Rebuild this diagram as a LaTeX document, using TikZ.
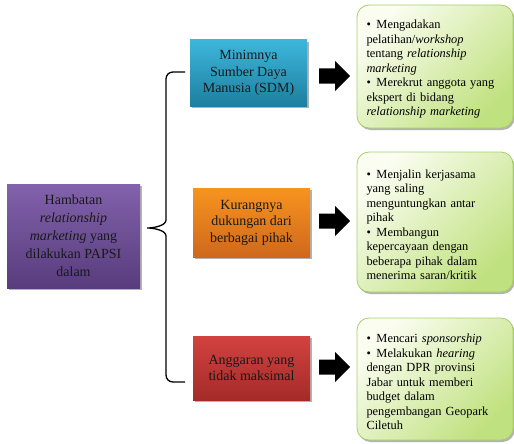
\documentclass[tikz,border=0pt]{standalone}
\usepackage{fontspec}
\setmainfont{Liberation Serif}
\usetikzlibrary{shadows,calc}
\definecolor{bluetop}{HTML}{3DB6DC}
\definecolor{bluebot}{HTML}{1D7F9E}
\definecolor{orgtop}{HTML}{F7941F}
\definecolor{orgbot}{HTML}{CF681C}
\definecolor{redtop}{HTML}{D2423F}
\definecolor{redbot}{HTML}{A42B29}
\definecolor{purtop}{HTML}{8262AC}
\definecolor{purbot}{HTML}{583C7D}
\definecolor{grnlight}{HTML}{FAFDF0}
\definecolor{grndark}{HTML}{C0E17F}
\definecolor{grnedge}{HTML}{A6CF68}
\begin{document}
\begin{tikzpicture}[x=1pt,y=-1pt,
  shadowed/.style={drop shadow={shadow xshift=1.5pt,shadow yshift=-2pt,opacity=.3,fill=black}},
  catbox/.style={shadowed,minimum width=117pt,align=center,inner sep=2pt,
    font=\fontsize{14}{16.5}\selectfont,text=black!90},
  solbox/.style={shadowed,draw=grnedge,line width=0.8pt,rounded corners=12pt,
    top color=grnlight,bottom color=grndark,shading angle=45,
    minimum width=156pt,text width=137pt,align=left,
    font=\fontsize{12.4}{14.5}\selectfont,text=black},
  blockarrow/.style={fill=black,draw=none},
  bracestyle/.style={draw=black,line width=1.3pt}]
\useasboundingbox (0,0) rectangle (514,444);
\newcommand{\itm}[1]{\par\noindent\hangindent=10pt\hangafter=1\makebox[10pt][l]{\textbullet}#1\par}
\newcommand{\blockarr}[1]{\fill[blockarrow] (#1) ++(0,-7.5) -- ++(16,0) -- ++(0,-7.5) -- ++(15,15) -- ++(-15,15) -- ++(0,-7.5) -- ++(-16,0) -- cycle;}

% left box
\node[shadowed,top color=purtop,bottom color=purbot,minimum width=133pt,minimum height=104pt,
  align=center,font=\fontsize{14}{18}\selectfont,text=black!90] (hamb) at (73.5,236)
  {Hambatan\\\textit{relationship}\\\textit{marketing} yang\\dilakukan PAPSI\\dalam};

% category boxes
\node[catbox,top color=bluetop,bottom color=bluebot,minimum height=66pt] (sdm) at (248.5,73)
  {Minimnya\\Sumber Daya\\Manusia (SDM)};
\node[catbox,top color=orgtop,bottom color=orgbot,minimum height=69pt] (duk) at (251.5,222.5)
  {Kurangnya\\dukungan dari\\berbagai pihak};
\node[catbox,top color=redtop,bottom color=redbot,minimum height=64pt] (ang) at (251.5,368)
  {Anggaran yang\\tidak maksimal};

% solution boxes
\node[solbox,minimum height=123pt] (sol1) at (435,66.5) {%
  \itm{Mengadakan\\pelatihan/\textit{workshop}\\tentang \textit{relationship}\\\textit{marketing}}%
  \itm{Merekrut anggota yang\\ekspert di bidang\\\textit{relationship marketing}}};
\node[solbox,minimum height=140pt] (sol2) at (435,222) {%
  \itm{Menjalin kerjasama\\yang saling\\menguntungkan antar\\pihak}%
  \itm{Membangun\\kepercayaan dengan\\beberapa pihak dalam\\menerima saran/kritik}};
\node[solbox,minimum height=122pt] (sol3) at (435,379) {%
  \itm{Mencari \textit{sponsorship}}%
  \itm{Melakukan \textit{hearing}\\dengan DPR provinsi\\Jabar untuk memberi\\budget dalam\\pengembangan Geopark\\Ciletuh}};

% block arrows (between category and solution boxes)
\coordinate (a1) at (319,76);
\coordinate (a2) at (319,221);
\coordinate (a3) at (319,367);
\blockarr{a1}
\blockarr{a2}
\blockarr{a3}

% brace
\coordinate (bt) at (185,72);
\coordinate (bb) at (185,382);
\coordinate (tip) at ($(hamb.east)+(7,-8)$);
\draw[bracestyle] (bt) -- (173,72) .. controls (169,72) and (166,75) .. (166,79)
  -- (166,220) .. controls (166,226) and (153,228) .. (tip)
  .. controls (153,228) and (166,230) .. (166,236)
  -- (166,375) .. controls (166,379) and (169,382) .. (173,382) -- (bb);
\end{tikzpicture}
\end{document}
